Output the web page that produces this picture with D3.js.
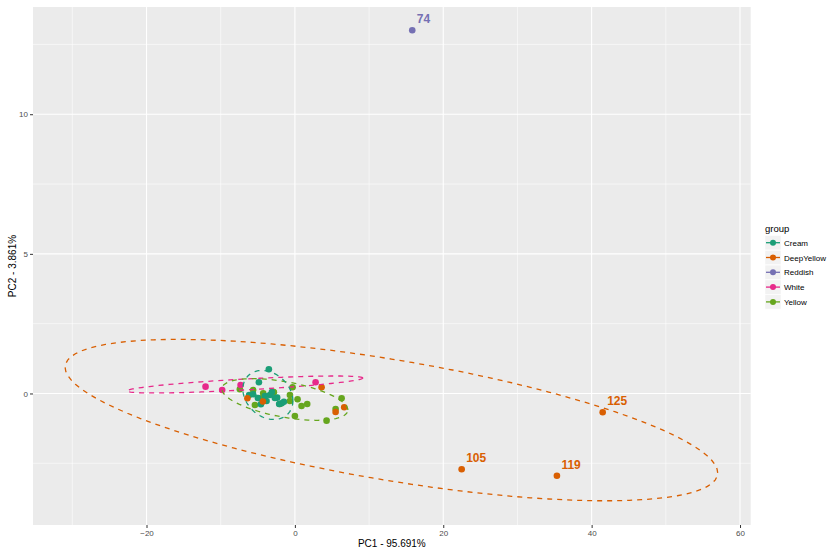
<!DOCTYPE html>
<html>
<head>
<meta charset="utf-8">
<script src="https://cdn.jsdelivr.net/npm/d3@7"></script>
<style>
body { margin: 0; background: #fff; }
text { font-family: "Liberation Sans", Arial, sans-serif; }
</style>
</head>
<body>
<svg id="chart" width="830" height="550"></svg>
<script>
// ---- data ----
const groups = ["Cream", "DeepYellow", "Reddish", "White", "Yellow"];
const groupColors = ["#1B9E77", "#D95F02", "#7570B3", "#E7298A", "#66A61E"];

const creamPoints = [
  [-3.51, 0.867], [-4.85, 0.401], [-6.16, -0.054], [-5.62, -0.029], [-3.37, -0.054],
  [-3.82, -0.269], [-4.58, -0.387], [-2.39, -0.150], [-1.79, -0.351], [-2.12, -0.376],
  [-3.10, 0.054], [-2.70, -0.161], [-4.99, -0.161], [-4.04, -0.09], [-1.48, -0.30]
];
const deepYellowPoints = [
  [3.60, 0.222], [-6.40, -0.172], [-4.31, -0.287], [6.65, -0.494], [5.49, -0.663],
  [22.48, -2.715], [35.32, -2.944], [41.49, -0.673]
];
const reddishPoints = [[15.82, 13.01]];
const whitePoints = [[-12.04, 0.244], [-9.80, 0.125], [-7.32, 0.304], [2.79, 0.401]];
const yellowPoints = [
  [-5.62, 0.125], [-4.27, 0.007], [-2.93, 0.064], [-4.72, -0.172], [-5.39, -0.412],
  [-0.67, -0.054], [-0.31, 0.222], [-0.67, -0.269], [0.36, -0.208], [1.66, -0.376],
  [0.90, -0.448], [-2.02, -0.376], [0.00, -0.806], [4.27, -0.974], [6.30, -0.172],
  [5.49, -0.555], [-7.42, 0.150], [-2.83, 0.043]
];

// labelled outliers: [x, y, label, group]
const labelled = [
  [15.82, 13.01, "74", "Reddish"],
  [22.48, -2.715, "105", "DeepYellow"],
  [35.32, -2.944, "119", "DeepYellow"],
  [41.49, -0.673, "125", "DeepYellow"]
];

// ellipses: group, centre x, centre y, half-width, half-height, correlation
const ellipseGroups = ["DeepYellow", "White", "Yellow", "Cream"];
const ellipseCx = [13.01, -6.74, -1.35, -3.64];
const ellipseCy = [-0.953, 0.322, -0.215, -0.054];
const ellipseSx = [43.98, 15.91, 8.49, 3.37];
const ellipseSy = [2.89, 0.304, 0.745, 0.877];
const ellipseR = [-0.654, 0.765, -0.505, -0.24];

const xTicks = [-20, 0, 20, 40, 60];
const xMinor = [-30, -10, 10, 30, 50];
const yTicks = [0, 5, 10];
const yMinor = [-2.5, 2.5, 7.5, 12.5];
const xTitle = "PC1 - 95.691%";
const yTitle = "PC2 - 3.861%";
const legendTitle = "group";

// ---- chart ----
const svg = d3.select("#chart");
const panel = { left: 33, right: 750.7, top: 7, bottom: 525 };
const x = d3.scaleLinear().domain([-35.3, 61.44]).range([panel.left, panel.right]);
const y = d3.scaleLinear().domain([-4.71, 13.84]).range([panel.bottom, panel.top]);
const color = d3.scaleOrdinal().domain(groups).range(groupColors);

svg.append("rect")
  .attr("x", panel.left).attr("y", panel.top)
  .attr("width", panel.right - panel.left).attr("height", panel.bottom - panel.top)
  .attr("fill", "#EBEBEB");

const grid = svg.append("g");
grid.selectAll(".xminor").data(xMinor).join("line")
  .attr("x1", d => x(d)).attr("x2", d => x(d))
  .attr("y1", panel.top).attr("y2", panel.bottom)
  .attr("stroke", "#fff").attr("stroke-width", 0.55);
grid.selectAll(".yminor").data(yMinor).join("line")
  .attr("y1", d => y(d)).attr("y2", d => y(d))
  .attr("x1", panel.left).attr("x2", panel.right)
  .attr("stroke", "#fff").attr("stroke-width", 0.55);
grid.selectAll(".xmajor").data(xTicks).join("line")
  .attr("x1", d => x(d)).attr("x2", d => x(d))
  .attr("y1", panel.top).attr("y2", panel.bottom)
  .attr("stroke", "#fff").attr("stroke-width", 1.1);
grid.selectAll(".ymajor").data(yTicks).join("line")
  .attr("y1", d => y(d)).attr("y2", d => y(d))
  .attr("x1", panel.left).attr("x2", panel.right)
  .attr("stroke", "#fff").attr("stroke-width", 1.1);

// axes
const xAxis = svg.append("g")
  .attr("transform", `translate(0,${panel.bottom})`)
  .call(d3.axisBottom(x).tickValues(xTicks).tickSize(3).tickPadding(2));
const yAxis = svg.append("g")
  .attr("transform", `translate(${panel.left},0)`)
  .call(d3.axisLeft(y).tickValues(yTicks).tickSize(3).tickPadding(2));
[xAxis, yAxis].forEach(a => {
  a.select(".domain").remove();
  a.selectAll(".tick line").attr("stroke", "#333333").attr("stroke-width", 1);
  a.selectAll(".tick text").attr("fill", "#4D4D4D").attr("font-size", 8)
    .attr("font-family", "Liberation Sans, Arial, sans-serif");
});

svg.append("text")
  .attr("x", (panel.left + panel.right) / 2).attr("y", 547)
  .attr("text-anchor", "middle").attr("font-size", 10).attr("fill", "#000")
  .text(xTitle);
svg.append("text")
  .attr("transform", `translate(16,${(panel.top + panel.bottom) / 2}) rotate(-90)`)
  .attr("text-anchor", "middle").attr("font-size", 10).attr("fill", "#000")
  .text(yTitle);

// points
const pointSets = [
  ["Yellow", yellowPoints], ["Cream", creamPoints], ["White", whitePoints],
  ["DeepYellow", deepYellowPoints], ["Reddish", reddishPoints]
];
const pts = svg.append("g");
pointSets.forEach(([g, arr]) => {
  pts.selectAll(null).data(arr).join("circle")
    .attr("cx", d => x(d[0])).attr("cy", d => y(d[1]))
    .attr("r", 3.3).attr("fill", color(g));
});

// ellipses
const tSteps = d3.range(0, 101).map(i => i / 100 * 2 * Math.PI);
const line = d3.line().x(d => x(d[0])).y(d => y(d[1]));
ellipseGroups.forEach((g, i) => {
  const r = ellipseR[i];
  const ptsE = tSteps.map(t => [
    ellipseCx[i] + ellipseSx[i] * Math.cos(t),
    ellipseCy[i] + ellipseSy[i] * (r * Math.cos(t) + Math.sqrt(1 - r * r) * Math.sin(t))
  ]);
  svg.append("path").attr("d", line(ptsE))
    .attr("fill", "none").attr("stroke", color(g))
    .attr("stroke-width", 1.3).attr("stroke-dasharray", "5,5");
});

// labels
svg.append("g").selectAll("text").data(labelled).join("text")
  .attr("x", d => x(d[0]) + 4.5).attr("y", d => y(d[1]) - 7)
  .attr("font-size", 12).attr("font-weight", "bold")
  .attr("fill", d => color(d[3]))
  .text(d => d[2]);

// legend
const lg = svg.append("g").attr("transform", "translate(765,0)");
lg.append("text").attr("x", 0).attr("y", 232).attr("font-size", 9.5).attr("fill", "#000").text(legendTitle);
groups.forEach((g, i) => {
  const cy = 242.7 + i * 14.8;
  lg.append("rect").attr("x", 0).attr("y", cy - 7.2).attr("width", 16).attr("height", 14.4)
    .attr("fill", "#F2F2F2").attr("stroke", "#fff").attr("stroke-width", 0.5);
  lg.append("line").attr("x1", 1).attr("x2", 15).attr("y1", cy).attr("y2", cy)
    .attr("stroke", color(g)).attr("stroke-width", 1.3);
  lg.append("circle").attr("cx", 8).attr("cy", cy).attr("r", 3).attr("fill", color(g));
  lg.append("text").attr("x", 19).attr("y", cy + 3).attr("font-size", 8).attr("fill", "#000").text(g);
});
</script>
</body>
</html>
